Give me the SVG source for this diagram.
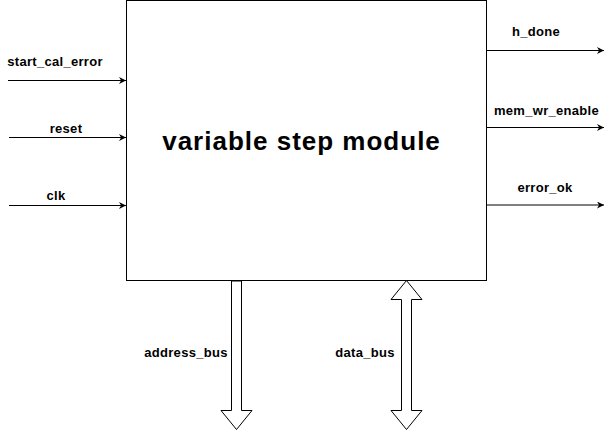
<svg xmlns="http://www.w3.org/2000/svg" width="612" height="431" viewBox="0 0 612 431">
<defs>
<marker id="ah" viewBox="0 0 10 10" refX="10" refY="5" markerWidth="7" markerHeight="7" markerUnits="userSpaceOnUse" orient="auto">
<path d="M0,0 L10,5 L0,10 L3,5 Z" fill="#000"/>
</marker>
<style>
.lbl{font-family:"Liberation Sans",Arial,sans-serif;font-size:13px;font-weight:bold;fill:#000;text-anchor:middle;letter-spacing:0.3px}
.ttl{font-family:"Liberation Sans",Arial,sans-serif;font-size:26px;font-weight:bold;fill:#000;text-anchor:middle;letter-spacing:1px}
.wire{stroke:#000;stroke-width:1;fill:none;marker-end:url(#ah)}
.bus{stroke:#000;stroke-width:1;fill:#fff}
</style>
</defs>
<rect width="612" height="431" fill="#fff"/>
<g id="module">
<rect x="126.5" y="0.5" width="360" height="280" fill="#fff" stroke="#000" stroke-width="1"/>
<text class="ttl" x="301.5" y="150">variable step module</text>
</g>
<g id="connectors">
<line class="wire" x1="8" y1="80.5" x2="126" y2="80.5"/>
<line class="wire" x1="9" y1="137.5" x2="126" y2="137.5"/>
<line class="wire" x1="9" y1="205.5" x2="126" y2="205.5"/>
<line class="wire" x1="487" y1="50.5" x2="604" y2="50.5"/>
<line class="wire" x1="487" y1="127.5" x2="604" y2="127.5"/>
<line class="wire" x1="487" y1="205" x2="604" y2="205"/>
</g>
<g id="address_bus">
<path class="bus" d="M231.5,281 L231.5,410.5 L221,410.5 L236.5,429.5 L252,410.5 L241.5,410.5 L241.5,281 Z"/>
</g>
<g id="data_bus">
<path class="bus" d="M406.5,280.5 L422,299.5 L411.5,299.5 L411.5,410.5 L422,410.5 L406.5,429.5 L391,410.5 L401.5,410.5 L401.5,299.5 L391,299.5 Z"/>
</g>
<g id="labels">
<text class="lbl" x="55" y="66">start_cal_error</text>
<text class="lbl" x="66" y="133">reset</text>
<text class="lbl" x="56" y="200">clk</text>
<text class="lbl" x="536" y="36">h_done</text>
<text class="lbl" x="546.5" y="115">mem_wr_enable</text>
<text class="lbl" x="545" y="192">error_ok</text>
<text class="lbl" x="186" y="357">address_bus</text>
<text class="lbl" x="365" y="357">data_bus</text>
</g>
</svg>
